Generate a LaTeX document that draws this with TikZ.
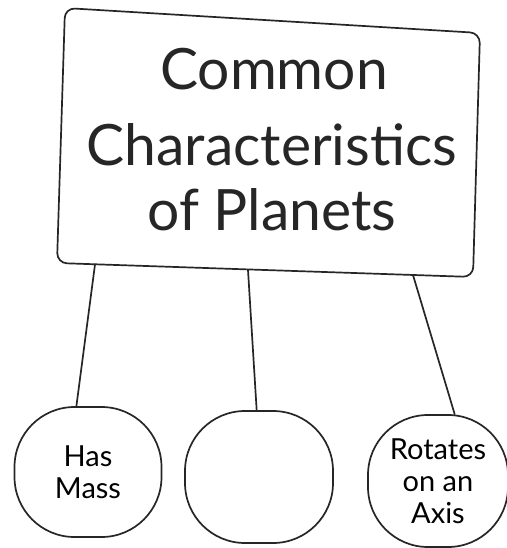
\documentclass[tikz,border=0pt]{standalone}
\usepackage{fontspec}
\setmainfont{Lato}
\usetikzlibrary{shapes.geometric}
\tikzset{
  ink/.style={draw=black!85, line width=1.7pt, line join=round, line cap=round},
  bubble/.style={ink, rectangle, rounded corners=60pt, inner sep=0pt, align=center, font=\fontsize{29}{32}\selectfont},
  title/.style={font=\fontsize{57}{60}\selectfont, anchor=base, inner sep=0pt, text=black!85}
}
\begin{document}
\begin{tikzpicture}[x=1pt,y=-1pt]
\useasboundingbox[fill=white] (0,0) rectangle (506,548);
% main box
\draw[ink, rounded corners=10pt] (65,8) -- (480,33) -- (473,277) -- (57,263) -- cycle;
\node[title] (t1) at (274,90) {Common};
\node[title] (t2) at (272,166) {Characteristics};
\node[title] (t3) at (272,230) {of Planets};
% attachment points on box bottom
\coordinate (a1) at (95,264.5);
\coordinate (a2) at (248,270);
\coordinate (a3) at (413,275);
% bubbles
\node[bubble, minimum width=147pt, minimum height=130pt] (b1) at (88,472) {Has\\Mass};
\node[bubble, minimum width=148pt, minimum height=132pt] (b2) at (259,477) {};
\node[bubble, minimum width=140pt, minimum height=132pt] (b3) at (438,481) {Rotates\\on an\\Axis};
% connectors
\draw[ink] (a1) -- (b1.100);
\draw[ink] (a2) -- (b2.92);
\draw[ink] (a3) -- (b3.76);
\end{tikzpicture}
\end{document}
